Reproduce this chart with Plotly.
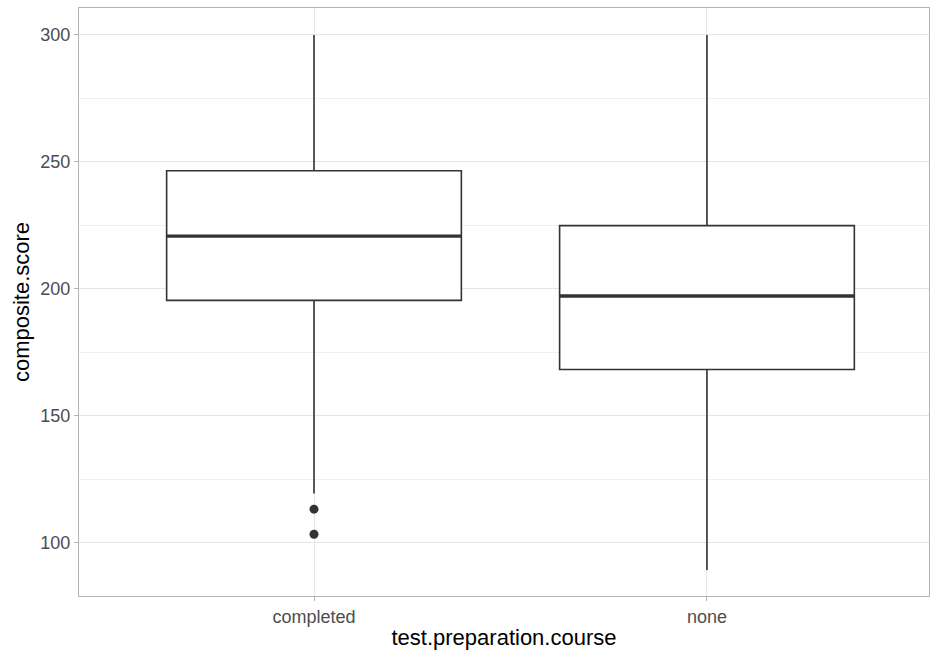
import plotly.graph_objects as go

categories = ["completed", "none"]
q1 = [195.5, 168.3]
median = [220.8, 197.2]
q3 = [246.5, 224.9]
lower_whisker = [119.5, 89.3]
upper_whisker = [300, 300]
outliers_x = ["completed", "completed"]
outliers_y = [113.3, 103.4]

pos = {c: i for i, c in enumerate(categories)}
line_col = "#333333"
box_w = 0.75
font_fam = "Liberation Sans, Arial, sans-serif"

fig = go.Figure()
fig.add_trace(go.Box(
    x=[pos[c] for c in categories], q1=q1, median=median, q3=q3,
    lowerfence=lower_whisker, upperfence=upper_whisker,
    width=box_w, fillcolor="white", line=dict(color=line_col, width=1.6),
    whiskerwidth=0, boxpoints=False, showlegend=False, hoverinfo="skip"))
for i, c in enumerate(categories):
    fig.add_trace(go.Scatter(
        x=[pos[c] - box_w / 2, pos[c] + box_w / 2], y=[median[i], median[i]],
        mode="lines", line=dict(color=line_col, width=3.4), showlegend=False, hoverinfo="skip"))
fig.add_trace(go.Scatter(
    x=[pos[c] for c in outliers_x], y=outliers_y, mode="markers",
    marker=dict(color=line_col, size=9), showlegend=False, hoverinfo="skip"))

axis_common = dict(
    showline=True, linecolor="#b3b3b3", linewidth=1, mirror=True,
    gridcolor="#e5e5e5", gridwidth=1, zeroline=False, automargin=False,
    ticks="outside", ticklen=4, tickcolor="#b3b3b3", tickwidth=1,
    tickfont=dict(family=font_fam, size=18, color="#4d4d4d"),
)
fig.update_xaxes(**axis_common, range=[-0.598, 1.565], tickvals=[0, 1], ticktext=categories,
                 title=dict(text="test.preparation.course", standoff=4,
                            font=dict(family=font_fam, size=22, color="black")))
fig.update_yaxes(**axis_common, range=[79.1, 310.6], tickvals=[100, 150, 200, 250, 300],
                 minor=dict(tickvals=[125, 175, 225, 275], showgrid=True, gridcolor="#f0f0f0", ticks=""),
                 title=dict(text="composite.score", standoff=4,
                            font=dict(family=font_fam, size=22, color="black")))
fig.update_layout(width=930, height=653, plot_bgcolor="white", paper_bgcolor="white",
                  margin=dict(l=79, r=1, t=8, b=57))
fig.write_html("out.html", config={"displayModeBar": False},
               post_script="document.body.style.margin='0';document.body.style.overflow='hidden';")
